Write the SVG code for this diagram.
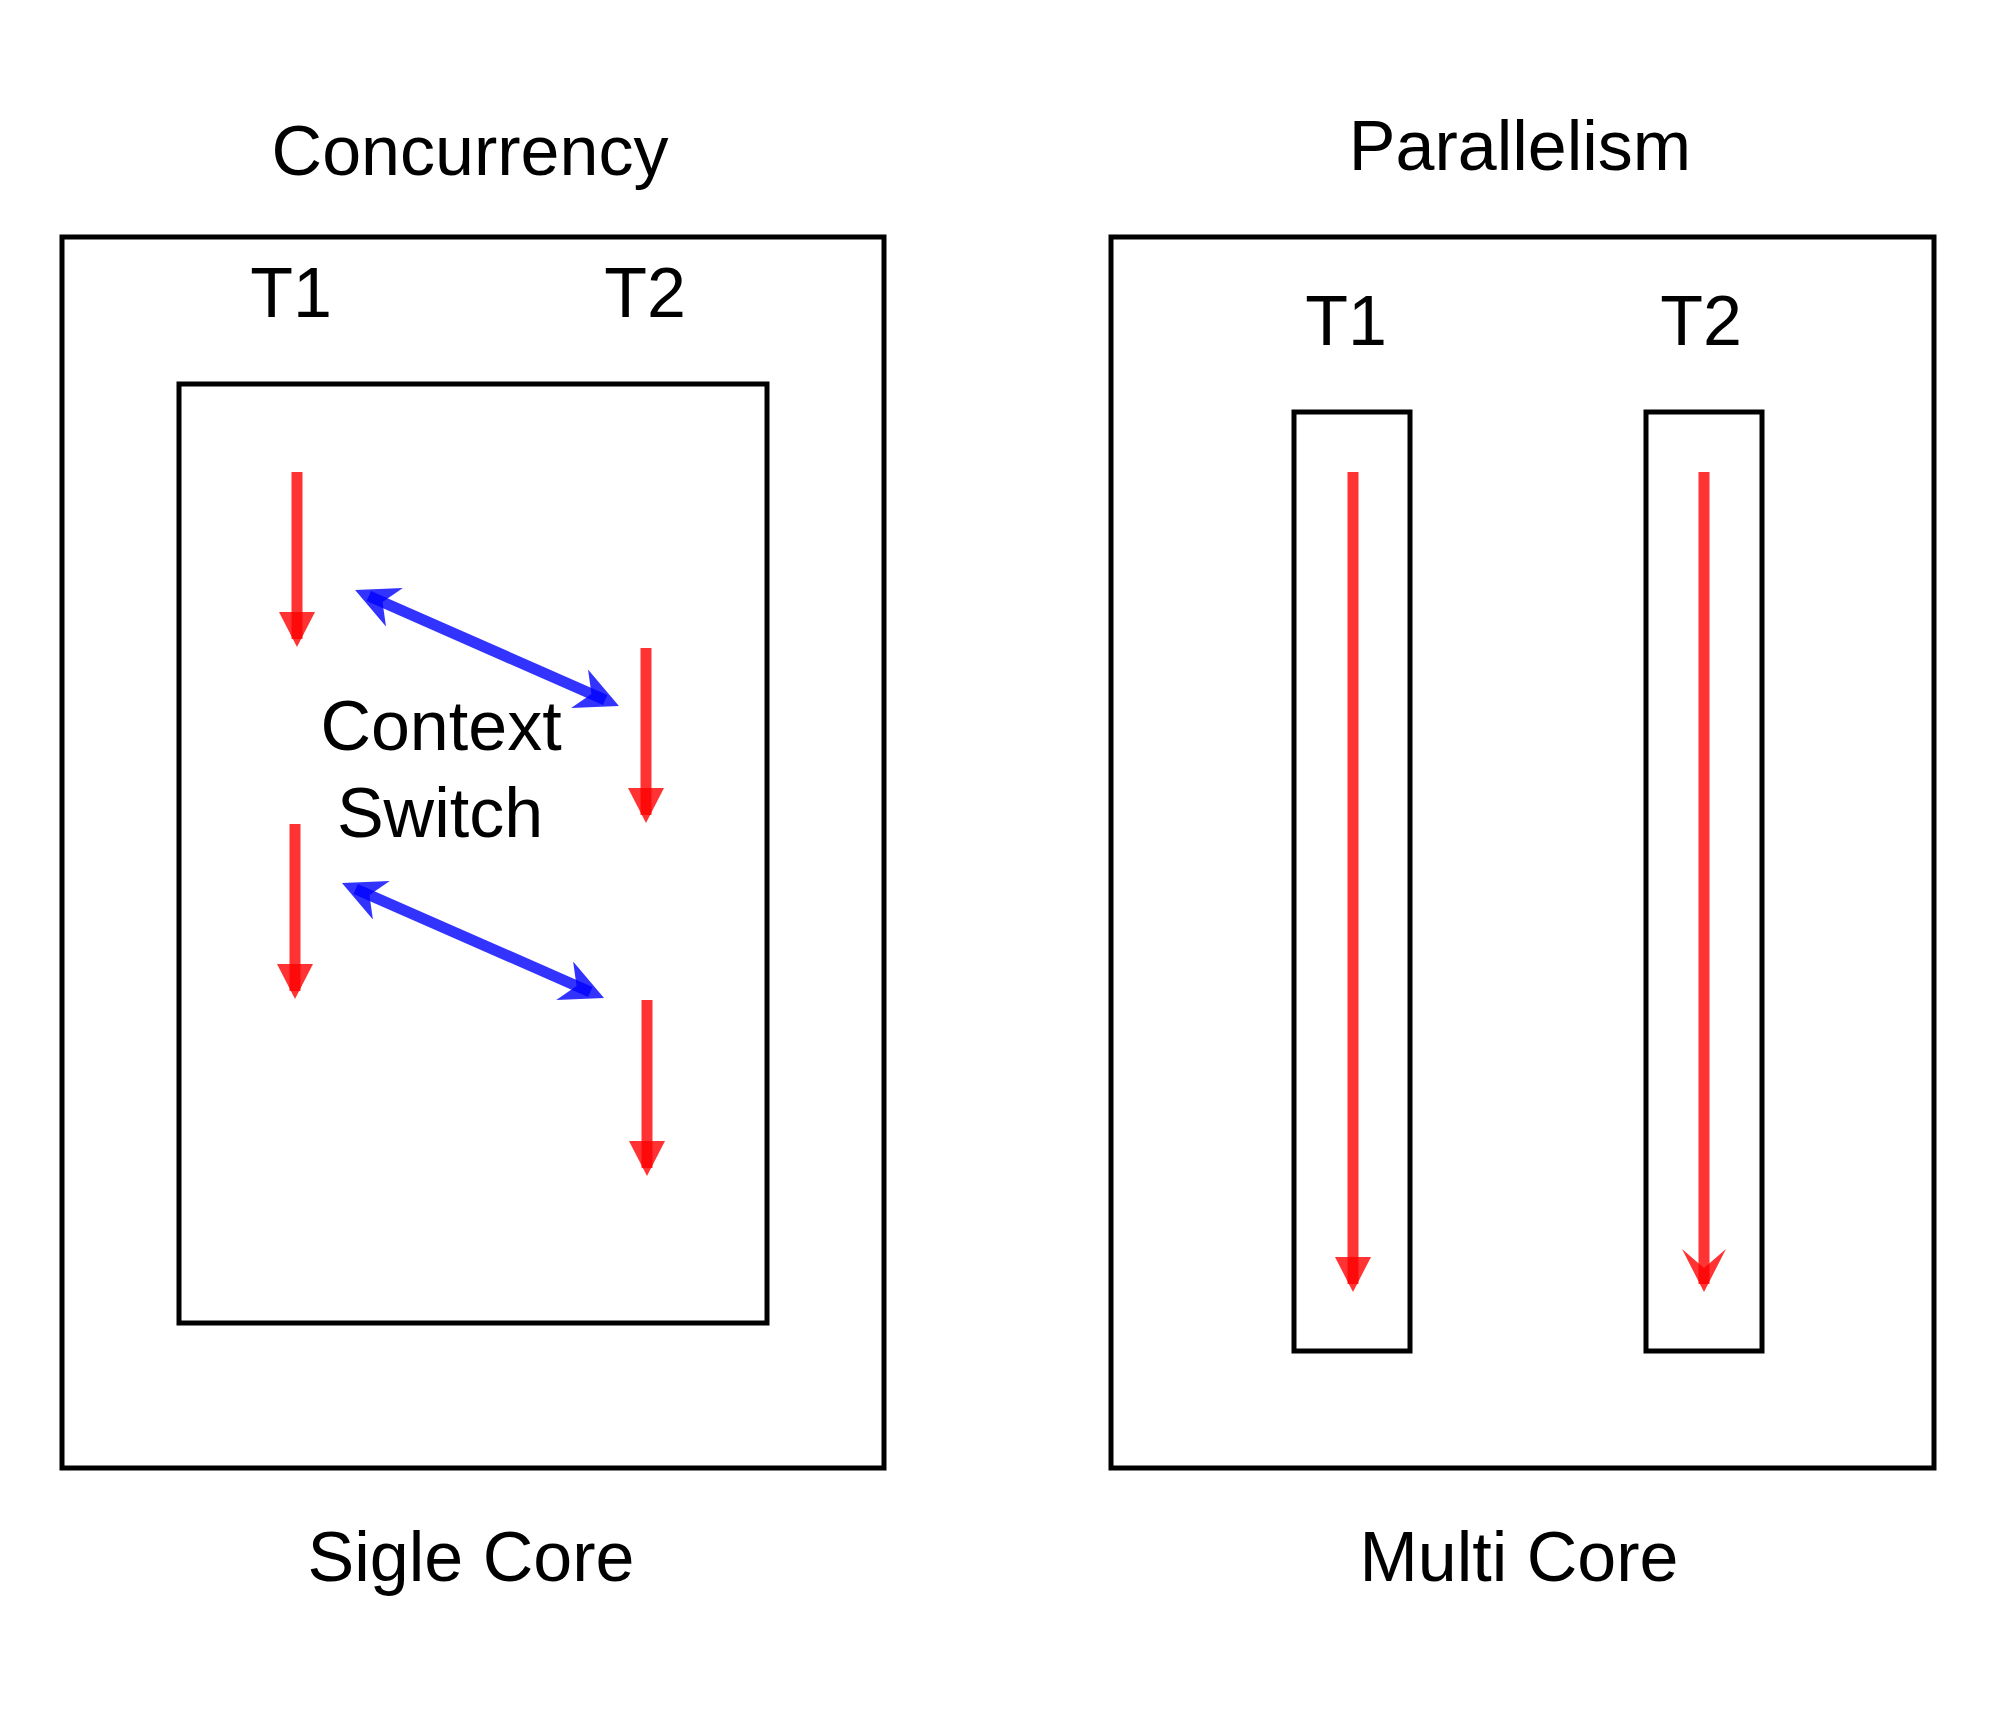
<svg xmlns="http://www.w3.org/2000/svg" width="2000" height="1717" viewBox="0 0 2000 1717">
<style>
.box{fill:#fff;stroke:#000;stroke-width:5}
.lbl{font-family:"Liberation Sans",Arial,sans-serif;font-size:70px;fill:#000;text-anchor:middle}
.red{stroke:#ff0000;stroke-opacity:0.8;stroke-width:11;fill:none}
.blue{stroke:#0000ff;stroke-opacity:0.8;stroke-width:11;fill:none}
</style>
<defs>
<marker id="redBlock" markerUnits="userSpaceOnUse" markerWidth="40" markerHeight="40" refX="27" refY="18" orient="auto">
<path d="M0,0 L35,18 L0,36 Z" fill="#ff0000" fill-opacity="0.8"/>
</marker>
<marker id="redClassic" markerUnits="userSpaceOnUse" markerWidth="50" markerHeight="50" refX="35" refY="22" orient="auto">
<path d="M0,0 L43,22 L0,44 L19,22 Z" fill="#ff0000" fill-opacity="0.8"/>
</marker>
<marker id="blueClassic" markerUnits="userSpaceOnUse" markerWidth="50" markerHeight="50" refX="28" refY="21" orient="auto-start-reverse">
<path d="M0,0 L43,21 L0,42 L13,21 Z" fill="#0000ff" fill-opacity="0.8"/>
</marker>
</defs>
<rect width="2000" height="1717" fill="#fff"/>

<g id="title-concurrency"><text class="lbl" x="470" y="175">Concurrency</text></g>
<g id="title-parallelism"><text class="lbl" x="1520" y="170">Parallelism</text></g>

<g id="single-core-box"><rect class="box" x="62" y="237" width="822" height="1231"/></g>
<g id="single-core-inner"><rect class="box" x="179" y="384" width="588" height="939"/></g>
<g id="left-t1"><text class="lbl" x="291" y="317">T1</text></g>
<g id="left-t2"><text class="lbl" x="645" y="317">T2</text></g>
<g id="context-switch"><text class="lbl" x="441" y="750">Context</text><text class="lbl" x="440" y="837">Switch</text></g>
<g id="label-single"><text class="lbl" x="471" y="1581">Sigle Core</text></g>

<g id="multi-core-box"><rect class="box" x="1111" y="237" width="823" height="1231"/></g>
<g id="core1"><rect class="box" x="1294" y="412" width="116" height="939"/></g>
<g id="core2"><rect class="box" x="1646" y="412" width="116" height="939"/></g>
<g id="right-t1"><text class="lbl" x="1346" y="345">T1</text></g>
<g id="right-t2"><text class="lbl" x="1701" y="345">T2</text></g>
<g id="label-multi"><text class="lbl" x="1519" y="1581">Multi Core</text></g>

<g id="connectors">
<line class="red" x1="297" y1="472" x2="297" y2="639" marker-end="url(#redBlock)"/>
<line class="red" x1="646" y1="648" x2="646" y2="815" marker-end="url(#redBlock)"/>
<line class="red" x1="295" y1="824" x2="295" y2="991" marker-end="url(#redBlock)"/>
<line class="red" x1="647" y1="1000" x2="647" y2="1168" marker-end="url(#redBlock)"/>
<line class="blue" x1="368.8" y1="596" x2="605.2" y2="700" marker-start="url(#blueClassic)" marker-end="url(#blueClassic)"/>
<line class="blue" x1="355.7" y1="889" x2="590.3" y2="992" marker-start="url(#blueClassic)" marker-end="url(#blueClassic)"/>
<line class="red" x1="1353" y1="472" x2="1353" y2="1284" marker-end="url(#redBlock)"/>
<line class="red" x1="1704" y1="472" x2="1704" y2="1284" marker-end="url(#redClassic)"/>
</g>
</svg>
